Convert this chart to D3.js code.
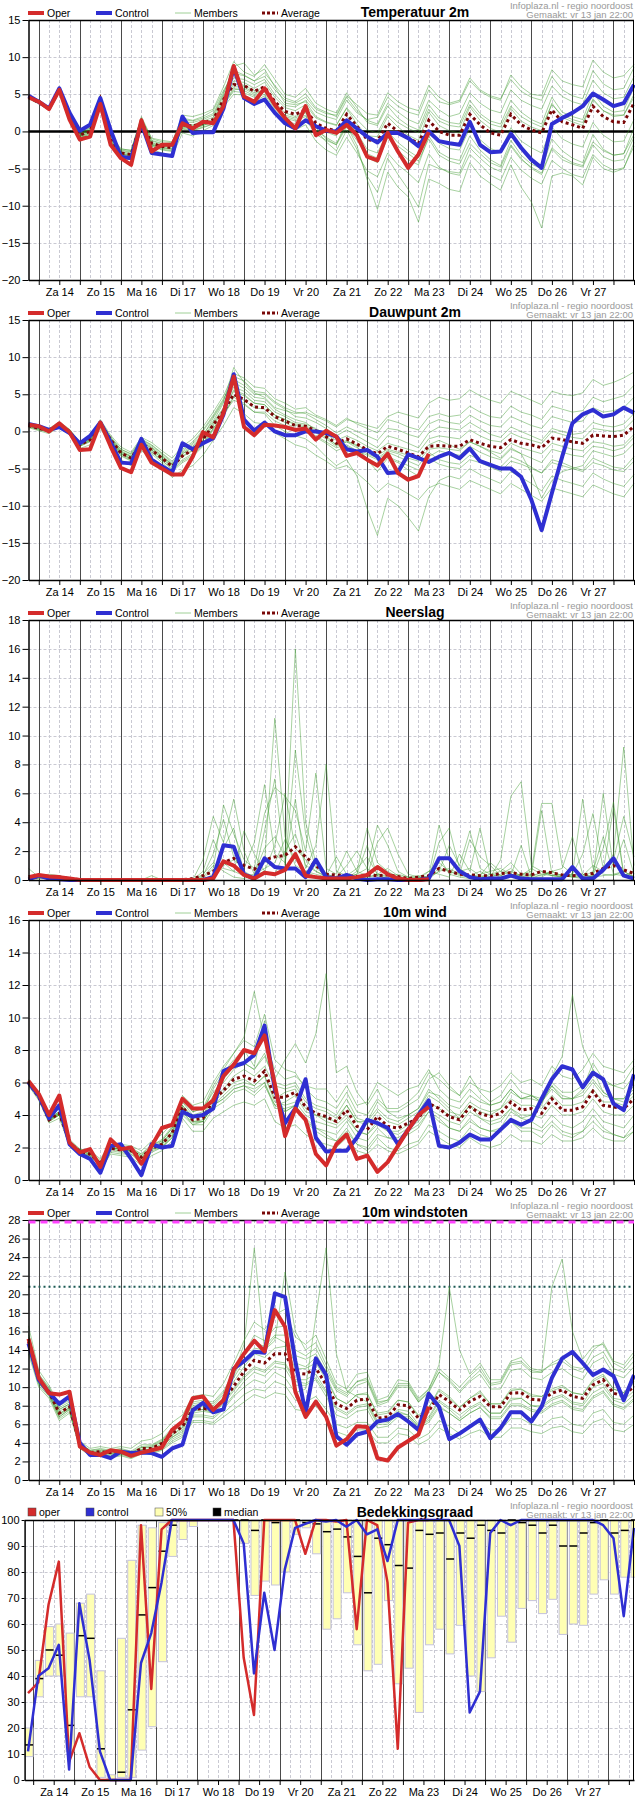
<!DOCTYPE html>
<html lang="nl">
<head>
<meta charset="UTF-8">
<title>Pluim noordoost</title>
<script src="https://cdnjs.cloudflare.com/ajax/libs/d3/7.8.5/d3.min.js"></script>
<style>
  body { margin: 0; background: #fff; }
  svg { display: block; font-family: "Liberation Sans", Arial, sans-serif; }
</style>
</head>
<body>
<svg id="chart" width="635" height="1800"></svg>
<script>
// ---------- data (6-hourly steps) ----------
var dayLabels = ["Za 14","Zo 15","Ma 16","Di 17","Wo 18","Do 19","Vr 20","Za 21","Zo 22","Ma 23","Di 24","Wo 25","Do 26","Vr 27"];

// Temperatuur 2m
var tOper = [4.6,4.0,3.0,5.6,1.6,-1.1,-0.7,3.7,-1.8,-3.6,-4.5,1.5,-2.7,-1.8,-1.8,1.1,0.4,1.3,1.1,3.4,8.8,4.7,4.0,5.8,3.6,1.8,0.4,3.4,-0.5,0.2,-0.2,0.9,-0.5,-3.4,-3.9,-0.2,-2.7,-4.9,-3.1,-0.1];
var tControl = [4.8,4.0,3.1,5.8,2.5,0.1,0.9,4.5,0.2,-3.4,-3.6,1.1,-2.9,-3.1,-3.3,2.0,-0.2,-0.1,-0.1,3.1,8.6,4.5,3.7,4.3,2.5,1.1,0.4,1.5,0.7,0.1,0,1.5,0.4,-0.7,-1.5,-0.2,-0.2,-0.9,-2.0,0,-1.3,-1.6,-1.8,1.3,-1.8,-2.8,-2.7,-0.3,-2.2,-3.8,-4.9,1.0,1.8,2.5,3.4,5.1,4.3,3.4,3.8,6.3];
var tAvg = [4.6,3.9,3.1,5.6,1.8,-0.5,0,4.3,-1.1,-2.9,-3.1,1.3,-1.6,-2.0,-2.2,0.9,0.7,1.1,1.6,4.3,6.3,6.2,5.4,6.0,4.0,2.7,2.3,2.9,1.1,0.4,0.1,2.3,0.7,-1.1,-1.3,1.1,0,-0.9,-1.6,1.5,0,-0.5,-0.5,2.3,0.9,-0.2,-0.5,2.3,0.9,0.2,-0.2,2.9,1.3,0.9,0.4,3.4,2.0,1.3,1.2,3.8];
var tMembers = [
  [4.8,4.1,3.3,5.9,2.0,-0.2,0.4,4.8,-0.5,-2.3,-2.6,1.8,-1.0,-1.4,-1.5,1.8,1.5,2.0,2.8,5.5,7.8,7.5,6.8,7.9,6.2,4.5,4.0,5.1,3.2,2.6,2.0,4.6,2.8,1.5,1.0,3.8,2.6,1.6,1.0,4.2,2.9,2.0,2.4,5.2,3.8,2.9,2.5,5.6,4.2,3.5,3.0,6.1,4.7,4.0,3.6,6.9,5.2,4.4,4.6,7.4],
  [4.4,3.7,2.9,5.3,1.5,-0.9,-0.6,3.6,-1.8,-3.6,-3.8,0.6,-2.4,-2.9,-3.3,-0.2,-0.6,0.1,0.8,3.3,5.0,4.9,4.0,4.8,2.5,0.9,0.2,0.9,-1.3,-2.5,-3.2,-0.8,-2.9,-5.3,-6.1,-2.9,-4.5,-5.6,-6.9,-3.0,-4.8,-5.6,-5.9,-3.1,-4.4,-5.9,-6.6,-3.5,-5.2,-6.3,-7.1,-3.9,-5.0,-5.8,-6.2,-3.1,-4.5,-5.2,-4.9,-2.0],
  [4.7,4.0,3.2,5.7,1.9,-0.4,0.2,4.5,-0.8,-2.6,-2.8,1.6,-1.3,-1.7,-1.9,1.3,1.2,1.6,2.2,5.0,8.8,9.2,7.6,8.4,6.0,3.8,3.6,4.0,2.0,1.3,0.9,3.1,1.0,-0.6,-0.7,2.0,0.6,-0.5,-1.2,2.6,0.8,0.1,-0.2,3.3,1.5,0.4,-0.1,3.1,1.4,0.6,0.1,3.8,1.9,1.3,0.8,4.4,2.8,2.0,2.2,5.0],
  [4.5,3.8,3.0,5.5,1.6,-0.7,-0.3,4.0,-1.4,-3.2,-3.4,1.0,-1.9,-2.4,-2.6,0.4,0.2,0.6,1.0,3.8,5.8,5.5,4.8,5.3,3.2,1.8,1.4,2.0,0.2,-0.8,-1.6,0.8,-1.9,-6.5,-10.5,-5.5,-7.5,-8.8,-12.2,-6.4,-7.0,-7.8,-8.1,-4.2,-6.0,-7.0,-7.9,-4.5,-7.5,-9.5,-13.0,-6.0,-5.6,-6.0,-7.2,-3.5,-5.0,-5.5,-5.0,-1.5],
  [4.6,3.9,3.1,5.6,1.8,-0.5,0.1,4.4,-1.0,-2.8,-3.0,1.4,-1.5,-1.9,-2.0,1.0,0.9,1.4,1.9,4.8,7.2,7.0,6.3,7.0,5.0,3.5,3.3,4.2,2.6,2.0,1.6,4.2,2.5,1.6,1.9,4.6,3.4,2.6,2.2,5.6,4.0,3.6,4.0,6.8,5.4,4.6,4.2,7.6,6.0,5.0,4.8,8.3,6.8,6.3,6.0,9.6,8.0,7.2,7.5,9.0],
  [4.5,3.9,3.0,5.4,1.7,-0.8,-0.4,3.9,-1.3,-3.1,-3.3,1.1,-1.8,-2.3,-2.4,0.7,0.4,0.8,1.3,3.7,5.6,5.8,5.0,5.6,3.6,2.2,1.8,2.5,0.6,-0.1,-0.6,1.6,-0.2,-2.4,-2.9,0.0,-1.5,-2.6,-3.5,0.2,-1.6,-2.3,-2.5,0.4,-1.1,-2.3,-2.8,0.5,-1.3,-2.2,-2.9,0.6,-1.0,-1.7,-2.1,1.2,-0.5,-1.4,-1.3,1.6],
  [4.7,4.0,3.2,5.8,2.1,-0.1,0.5,4.9,-0.6,-2.4,-2.5,2.0,-0.9,-1.2,-1.4,2.2,2.0,2.4,3.0,6.0,9.4,8.0,7.4,9.0,7.0,5.0,4.6,5.8,3.8,3.0,2.5,5.2,3.2,1.2,0.8,3.4,1.8,0.8,0.2,3.6,1.8,1.2,1.0,4.2,2.4,1.4,1.0,4.2,2.6,1.6,1.0,4.6,2.6,2.0,1.6,5.2,3.4,2.6,2.8,6.0],
  [4.6,3.8,3.1,5.6,1.7,-0.6,-0.1,4.2,-1.2,-3.0,-3.2,1.2,-1.7,-2.1,-2.3,0.6,0.5,0.9,1.4,4.0,6.4,6.2,5.5,5.9,3.9,2.5,2.0,2.6,0.5,-1.0,-1.8,1.5,-0.8,-3.5,-4.2,-0.8,-2.6,-3.8,-4.5,-0.6,-2.8,-3.6,-3.9,-0.6,-2.5,-3.8,-4.6,-1.2,-3.2,-4.4,-5.0,-1.0,-2.6,-3.6,-4.2,-0.4,-2.4,-3.2,-3.0,0.5],
  [4.5,3.8,3.0,5.5,1.7,-0.6,-0.2,4.1,-1.2,-3.0,-3.3,1.1,-1.8,-2.2,-2.4,0.5,0.4,0.8,1.3,4.1,6.8,6.6,5.8,6.6,4.6,3.2,2.8,3.6,1.8,1.2,0.8,3.2,1.6,0.2,-0.2,2.4,1.2,0.4,-0.2,3.0,1.4,0.8,0.6,3.6,2.0,1.0,0.6,3.4,2.0,1.2,0.6,3.6,2.2,1.6,1.2,4.2,2.8,2.2,2.2,4.6],
  [4.6,3.9,3.0,5.5,1.8,-0.4,0.0,4.4,-1.0,-2.8,-3.0,1.4,-1.6,-2.0,-2.1,1.0,0.8,1.2,1.6,4.4,6.0,6.0,5.2,5.6,3.4,2.0,1.6,2.2,0.2,-1.4,-2.6,0.2,-2.4,-6.0,-8.2,-3.6,-5.8,-7.8,-10.2,-4.4,-5.0,-5.4,-5.6,-2.2,-3.6,-4.8,-5.4,-2.0,-3.8,-4.8,-5.6,-2.2,-3.4,-4.2,-4.6,-1.4,-2.6,-3.2,-3.0,-0.4],
  [4.7,4.0,3.2,5.7,2.0,-0.3,0.3,4.6,-0.7,-2.5,-2.7,1.7,-1.2,-1.6,-1.7,1.6,1.4,1.8,2.4,5.2,8.2,7.6,6.8,7.4,5.6,4.2,3.8,4.6,3.0,2.4,2.2,4.8,3.6,2.4,2.2,5.2,4.0,3.2,2.8,6.2,4.6,3.8,4.2,7.2,5.6,4.8,4.4,7.0,5.4,4.6,4.2,7.4,5.6,4.8,4.4,8.2,6.4,5.6,5.8,8.6],
  [4.5,3.8,3.0,5.5,1.6,-0.8,-0.5,3.8,-1.5,-3.3,-3.5,0.9,-2.0,-2.5,-2.7,0.3,0.1,0.5,1.0,3.6,5.4,5.2,4.6,5.0,3.0,1.5,1.0,1.6,-0.4,-1.2,-1.8,0.6,-1.2,-3.0,-3.6,-0.6,-2.0,-3.0,-4.0,-1.0,-3.2,-4.0,-4.4,-1.6,-3.0,-4.2,-4.8,-1.8,-3.6,-5.0,-5.8,-2.4,-3.8,-4.4,-4.8,-1.8,-3.4,-4.0,-3.8,-0.8]
];

// Dauwpunt 2m
var dOper = [0.9,0.7,0,1.1,-0.1,-2.5,-2.4,1.2,-2.0,-4.9,-5.5,-1.8,-4.2,-5.0,-5.8,-5.8,-3.4,-0.1,-0.8,2.5,7.4,0.6,-0.5,0.9,0.8,0.6,0.2,0.4,-1.1,0.1,-0.7,-3.3,-2.9,-3.8,-4.6,-3.0,-5.6,-6.5,-6.0,-3.0];
var dControl = [1.0,0.7,0.2,0.6,-0.2,-1.6,-0.6,1.2,-1.4,-4.2,-4.3,-1.0,-3.8,-4.7,-5.5,-1.6,-2.4,-1.6,-0.9,2.3,7.7,1.6,0.1,1.2,0,-0.5,-0.5,0,0,-0.2,-0.7,-2.4,-2.7,-2.5,-3.4,-5.6,-5.5,-3.1,-3.6,-4.1,-3.4,-2.9,-3.6,-2.3,-4.0,-4.5,-5.0,-5.0,-6.1,-9.2,-13.3,-8.3,-3.4,1.1,2.3,2.9,2.0,2.3,3.2,2.5];
var dAvg = [0.8,0.4,0.1,0.9,0,-1.8,-1.1,1.1,-1.1,-2.9,-3.6,-1.6,-2.5,-3.6,-4.7,-3.3,-2.5,-1.1,0.9,2.7,5.0,4.3,3.3,3.2,2.0,1.4,0.8,0.7,0.1,-0.7,-1.6,-1.0,-1.7,-2.5,-3.0,-2.0,-2.4,-2.9,-3.4,-2.0,-1.9,-2.0,-2.0,-1.1,-1.6,-2.0,-2.2,-1.1,-1.6,-1.8,-2.2,-0.9,-1.1,-1.4,-1.6,-0.5,-0.6,-0.7,-0.5,0.7];
var dMembers = [
  [1.1,0.7,0.4,1.3,0.3,-1.4,-0.6,1.6,-0.5,-2.1,-2.8,-0.8,-1.5,-2.6,-3.6,-2.0,-1.0,0.6,2.6,4.8,7.8,7.2,6.0,5.8,4.4,3.8,3.0,3.2,2.2,1.6,0.8,1.8,1.0,0.4,-0.2,1.6,1.2,0.6,0.2,2.0,2.4,2.0,2.2,3.4,2.6,2.0,1.8,3.4,2.6,2.2,1.6,3.4,3.0,2.6,2.8,4.6,4.0,4.4,4.8,6.2],
  [0.5,0.1,-0.3,0.6,-0.4,-2.3,-1.8,0.4,-1.8,-3.8,-4.6,-2.6,-3.6,-4.8,-6.2,-5.2,-4.6,-3.2,-1.2,0.8,3.2,2.4,1.2,1.0,-0.2,-1.0,-1.8,-2.2,-3.2,-4.0,-5.0,-4.6,-5.6,-6.8,-8.2,-7.0,-7.6,-8.4,-9.2,-7.6,-7.0,-7.4,-7.8,-6.6,-7.2,-7.8,-8.4,-7.0,-7.8,-8.6,-9.4,-7.6,-8.0,-8.4,-8.8,-7.2,-7.8,-8.4,-8.8,-7.0],
  [0.9,0.5,0.2,1.0,0.1,-1.6,-0.9,1.3,-0.9,-2.6,-3.3,-1.2,-2.1,-3.2,-4.4,-2.8,-1.8,-0.4,1.4,3.8,6.6,5.8,4.6,4.4,3.0,2.2,1.6,1.2,0.2,-0.6,-1.8,-1.2,-2.0,-3.8,-5.4,-3.6,-4.2,-5.2,-6.0,-3.4,-2.6,-3.0,-3.2,-2.0,-2.8,-3.4,-3.8,-2.4,-3.0,-3.6,-4.2,-2.4,-2.8,-3.2,-3.4,-2.0,-2.2,-2.6,-2.2,-0.8],
  [0.7,0.3,0.0,0.8,-0.1,-2.0,-1.3,0.9,-1.3,-3.3,-4.0,-2.0,-3.0,-4.2,-5.4,-4.2,-3.4,-2.0,0.2,2.0,4.6,3.8,2.6,2.4,0.8,0.0,-0.6,-1.0,-2.0,-3.4,-4.6,-3.8,-6.0,-10.4,-14.0,-9.0,-10.0,-11.6,-13.4,-8.8,-6.6,-6.0,-6.4,-5.0,-5.8,-6.4,-7.0,-5.4,-6.2,-7.0,-8.0,-6.0,-6.6,-7.0,-7.4,-5.6,-6.4,-7.0,-7.4,-5.8],
  [0.8,0.4,0.1,0.9,0.0,-1.8,-1.0,1.2,-1.0,-2.8,-3.4,-1.4,-2.2,-3.4,-4.4,-3.0,-2.0,-0.6,1.8,4.0,8.6,6.6,5.2,4.6,3.2,2.8,2.4,2.6,2.0,1.4,0.6,1.6,1.2,0.8,0.4,2.0,2.6,2.2,1.8,3.8,4.6,4.2,4.4,5.6,4.8,4.2,3.8,5.4,4.8,4.2,3.6,5.4,5.0,4.8,5.2,7.0,6.2,6.6,7.2,8.0],
  [0.6,0.2,-0.1,0.7,-0.2,-2.0,-1.4,0.8,-1.4,-3.2,-3.9,-1.8,-2.8,-3.9,-5.0,-3.8,-3.0,-1.6,0.4,2.4,4.2,3.6,2.6,2.6,1.4,0.8,0.2,0.0,-0.8,-1.6,-2.6,-2.0,-2.6,-3.2,-3.8,-2.8,-3.4,-4.0,-4.6,-2.8,-3.8,-4.2,-4.4,-3.2,-3.8,-4.4,-4.8,-3.4,-4.0,-4.8,-5.6,-3.8,-4.2,-4.8,-5.2,-3.6,-4.2,-4.8,-5.0,-3.4],
  [1.0,0.6,0.3,1.1,0.2,-1.5,-0.7,1.4,-0.7,-2.4,-3.0,-1.0,-1.8,-2.9,-4.0,-2.4,-1.4,0.2,2.2,4.4,7.0,6.2,5.0,5.0,3.8,3.0,2.0,1.8,1.2,0.4,-0.6,0.2,-0.6,-1.4,-2.2,-0.6,-1.0,-1.6,-2.2,-0.2,0.6,0.4,0.2,1.2,0.4,-0.4,-0.8,0.6,0.0,-0.6,-1.2,0.4,0.0,-0.4,-0.2,1.2,0.8,0.6,1.0,2.4],
  [0.8,0.4,0.1,0.9,-0.1,-1.9,-1.2,1.0,-1.2,-3.0,-3.7,-1.6,-2.5,-3.6,-4.8,-3.4,-2.6,-1.2,0.8,2.8,5.4,4.8,3.8,3.6,2.2,1.6,1.0,0.8,0.0,-0.8,-1.8,-1.4,-1.8,-2.6,-3.2,-2.4,-2.8,-3.2,-3.6,-1.8,-1.2,-1.8,-2.4,-1.4,-2.0,-2.8,-3.6,-2.2,-3.0,-5.6,-9.0,-6.6,-5.4,-5.0,-4.6,-2.6,-3.0,-3.4,-3.0,-1.6],
  [0.9,0.5,0.2,1.0,0.0,-1.7,-1.0,1.2,-1.0,-2.7,-3.4,-1.4,-2.3,-3.4,-4.5,-3.0,-2.2,-0.8,1.2,3.2,6.0,5.4,4.2,4.0,2.6,2.0,1.2,1.0,0.4,-0.4,-1.2,-0.6,-1.2,-2.0,-2.6,-1.6,-2.0,-2.4,-2.8,-1.0,-0.6,-0.8,-1.0,0.2,-0.6,-1.2,-1.4,-0.2,-0.8,-1.2,-1.6,0.0,-0.4,-0.8,-1.0,0.4,0.2,0.0,0.2,1.6],
  [0.7,0.3,0.0,0.8,-0.1,-1.9,-1.2,1.0,-1.2,-3.0,-3.8,-1.8,-2.8,-3.9,-5.2,-4.0,-3.2,-1.8,0.4,2.2,4.8,4.2,3.2,3.0,1.8,1.2,0.4,0.2,-0.6,-1.4,-2.2,-1.8,-2.6,-3.6,-4.4,-3.4,-4.0,-4.6,-5.2,-3.6,-4.4,-4.8,-5.0,-3.8,-4.2,-4.8,-5.4,-4.0,-4.4,-5.0,-5.6,-4.2,-4.6,-5.0,-5.4,-4.2,-4.6,-5.2,-5.4,-4.0],
  [1.0,0.6,0.3,1.1,0.2,-1.5,-0.8,1.4,-0.8,-2.4,-3.1,-1.1,-1.9,-3.0,-4.2,-2.6,-1.6,0.0,2.0,4.2,7.4,6.8,5.4,5.2,4.0,3.2,2.6,2.4,1.6,0.8,-0.2,0.6,0.0,-0.6,-1.2,0.4,0.2,-0.4,-0.8,1.0,1.6,1.2,1.0,2.2,1.4,0.8,0.6,2.0,1.4,0.8,0.4,2.0,1.6,1.2,1.4,3.2,2.6,2.8,3.2,4.6],
  [0.8,0.4,0.1,0.9,0.0,-1.8,-1.1,1.1,-1.1,-2.9,-3.6,-1.6,-2.5,-3.6,-4.7,-3.3,-2.5,-1.1,1.0,3.0,5.6,5.0,3.8,3.6,2.2,1.6,0.8,0.6,-0.2,-1.0,-2.0,-1.4,-2.2,-3.0,-3.6,-2.6,-3.0,-3.6,-4.0,-2.4,-2.2,-2.4,-2.6,-1.4,-2.0,-2.6,-3.0,-1.6,-2.2,-2.6,-3.0,-1.6,-2.0,-2.4,-2.6,-1.4,-1.6,-2.0,-1.8,-0.4]
];

// Neerslag (mm)
var pOper = [0.2,0.35,0.25,0.2,0.1,0,0,0,0,0,0,0,0,0,0,0,0,0,0.1,1.3,1.0,0.35,0.1,0.5,0.4,0.7,1.8,0.3,0.2,0.1,0.1,0.1,0.2,0.35,0.9,0.4,0.1,0,0,0.05];
var pControl = [0.05,0.3,0.1,0.05,0,0,0,0,0,0,0,0,0,0,0,0,0,0,0.2,2.4,2.3,0.4,0.1,1.5,0.9,0.8,0.8,0.2,1.4,0.2,0.1,0.35,0.1,0,0.05,0.05,0,0,0,0.1,1.5,1.5,0.6,0.2,0.05,0.1,0.1,0.3,0.1,0.05,0.05,0.05,0.05,0.9,0.1,0.1,0.7,1.5,0.3,0.1];
var pAvg = [0.05,0.25,0.2,0.2,0.1,0.02,0.02,0.02,0.02,0.02,0.02,0.02,0.02,0.02,0.02,0.02,0.1,0.3,0.6,1.2,1.5,1.0,0.75,1.4,1.6,1.7,2.3,1.6,1.0,0.4,0.35,0.3,0.25,0.35,0.3,0.35,0.25,0.1,0.2,0.3,0.8,0.6,0.4,0.35,0.3,0.3,0.45,0.5,0.4,0.35,0.6,0.5,0.35,0.3,0.35,0.45,0.8,1.0,0.7,0.45];
var pMembers = [
  [0,0.4,0.3,0.2,0.1,0,0,0,0,0,0,0,0,0,0,0,0,0.3,1.8,4.2,1.6,0.6,0.2,1.2,11.2,3.0,1.0,0.6,0.4,0.2,0.1,0.2,0.4,0.8,0.3,0.1,0,0,0.2,0.6,1.2,0.6,0.3,0.2,0.4,0.6,0.8,0.4,0.2,0.1,0.4,0.6,0.3,0.2,0.1,0.3,0.6,1.8,9.2,1.0],
  [0.8,0.2,0.1,0,0,0,0,0,0,0,0,0,0,0,0,0,0,1.4,4.4,2.6,5.6,2.0,0.4,2.2,3.0,1.6,16.0,4.0,1.2,0.4,0.2,0.1,0.6,3.6,1.2,0.6,0.2,0,0.1,0.3,3.8,1.4,0.6,0.8,0.3,0.2,1.4,5.8,6.8,1.0,0.6,0.3,0.2,0.4,5.6,0.8,0.4,0.3,0.6,0.2],
  [0.1,0.3,0.4,0.3,0.1,0,0,0,0,0,0,0,0.3,0,0,0,0,0.1,0.8,5.2,3.2,1.4,0.8,4.6,6.4,5.8,4.8,2.0,7.4,0.8,0.4,2.0,0.6,0.3,2.6,3.6,1.8,0.4,0.2,0.1,0.6,2.4,1.0,3.4,0.8,0.4,0.6,1.2,0.4,0.6,5.3,5.3,1.0,0.4,1.8,4.6,0.8,1.4,4.4,1.6],
  [0,0.2,0.2,0.1,0,0,0,0,0,0,0,0,0,0,0,0,0,0.6,2.8,1.2,0.6,3.4,1.8,0.6,2.4,6.0,2.2,1.4,0.6,0.3,1.6,0.4,0.2,0.1,0.4,0.8,0.3,0.1,0,0.6,0.4,0.2,1.8,0.6,3.6,0.4,0.2,0.3,2.4,0.2,0.2,0.6,0.8,3.0,0.4,0.2,6.0,0.8,2.8,0.4],
  [0.2,0.3,0.1,0.1,0,0,0,0,0,0,0,0,0,0,0,0,0,0,0.3,1.0,1.4,0.8,2.6,6.6,1.8,1.2,5.6,0.8,2.4,8.0,0.6,0.3,0.8,1.6,0.4,0.2,0.4,0.2,0.1,0.2,1.6,0.4,0.2,0.1,0.3,1.2,0.6,0.4,0.3,0.8,0.4,0.3,0.2,0.4,0.3,1.0,0.6,5.0,0.3,0.6],
  [0.1,0.1,0.3,0.2,0.1,0,0,0,0,0,0,0,0,0,0,0,0,0.2,1.0,0.8,0.6,0.3,0.4,0.8,1.2,2.8,1.4,0.6,0.2,0.1,0.2,1.0,2.0,0.8,3.8,2.4,0.6,0.2,0.3,0.2,0.8,0.6,0.4,2.8,1.6,1.0,0.3,0.2,0.4,0.3,4.8,0.4,0.2,0.3,0.2,0.6,3.0,0.4,0.3,0.2],
  [0.3,0.2,0.2,0.1,0,0,0,0,0,0,0,0,0,0,0,0,0,0,0.4,2.2,3.6,0.4,0.2,3.4,7.0,1.0,9.0,3.2,0.8,0.4,0.2,0.3,0.1,0.2,0.4,0.3,0.1,0,0,0.2,0.6,0.8,0.4,0.3,0.2,0.4,0.3,0.6,0.3,0.2,0.6,0.3,0.4,0.2,0.2,0.3,2.2,5.4,0.4,0.3],
  [0,0.1,0.1,0.2,0.1,0,0,0,0,0,0,0,0,0,0,0,0,0.4,1.2,0.6,0.2,0.1,0.3,0.6,0.4,2.0,3.2,1.0,0.6,0.2,0.1,0.2,0.4,2.4,0.3,0.1,0,0.1,0.2,0.1,2.6,3.6,0.8,0.3,0.6,0.2,0.4,0.8,0.2,0.4,0.3,0.6,0.2,0.3,0.4,0.2,0.3,0.4,0.6,0.2]
];

// 10m wind (m/s)
var wOper = [6.1,5.3,4.0,5.2,2.3,1.7,1.9,0.8,2.5,1.9,2.0,1.0,2.1,3.2,3.4,5.0,4.4,4.4,4.9,6.4,7.1,8.0,7.8,8.9,5.9,2.7,4.4,3.7,1.6,0.9,2.2,2.8,1.3,1.5,0.5,1.1,2.1,3.1,4.0,4.5];
var wControl = [6.0,5.2,3.8,4.6,2.2,1.6,1.3,0.45,2.1,2.2,1.3,0.3,2.2,2.0,2.1,4.2,3.9,4.0,4.4,6.7,7.0,7.2,7.7,9.5,5.6,3.5,4.4,6.2,2.6,1.75,1.8,1.8,2.6,3.7,3.5,3.2,2.2,3.1,4.0,4.9,2.1,2.0,2.3,2.8,2.5,2.5,3.1,3.7,3.4,3.7,5.0,6.2,7.0,6.8,5.7,6.6,6.2,4.7,4.3,6.5];
var wAvg = [6.0,5.1,3.7,4.1,2.3,1.75,1.6,1.0,1.95,1.85,1.8,1.4,1.95,2.2,2.9,4.5,3.7,3.8,4.9,5.5,6.2,6.4,6.1,6.7,5.1,5.1,5.4,4.5,4.1,3.9,3.6,4.3,3.3,3.1,3.9,3.3,3.2,3.5,3.8,4.7,4.4,3.9,3.7,4.5,4.1,3.9,4.1,4.8,4.3,4.4,4.1,5.0,4.3,4.3,4.5,5.45,4.6,4.5,4.4,5.0];
var wMembers = [
  [6.2,5.3,3.9,4.4,2.5,1.9,1.8,1.3,2.3,2.2,2.1,1.8,2.4,2.8,3.5,5.2,4.6,4.8,6.0,7.0,7.8,8.6,8.2,10.2,7.4,6.8,6.6,5.6,5.0,4.8,4.4,5.4,4.2,4.0,5.0,4.4,4.4,4.8,5.4,6.6,6.2,5.6,5.2,6.0,5.6,5.4,5.8,6.6,6.0,6.2,5.8,7.0,6.4,6.2,6.8,7.8,7.0,6.8,6.6,7.4],
  [5.8,4.9,3.5,3.8,2.1,1.5,1.3,0.6,1.6,1.5,1.4,0.9,1.5,1.8,2.4,3.8,3.0,3.0,3.8,4.2,4.6,4.8,4.6,5.0,3.6,3.2,3.4,2.8,2.4,2.2,2.0,2.6,1.8,1.6,2.2,1.8,1.6,1.9,2.2,3.0,2.6,2.2,2.0,2.6,2.2,2.0,2.2,2.8,2.4,2.4,2.2,2.8,2.4,2.4,2.6,3.2,2.6,2.4,2.4,3.0],
  [6.1,5.2,3.8,4.0,2.3,1.8,1.6,0.9,1.9,1.8,1.8,1.3,2.0,2.2,3.0,4.6,3.9,4.0,5.2,6.2,7.0,7.2,6.8,7.6,6.2,7.4,8.4,7.2,9.0,12.7,6.6,7.0,5.4,4.6,5.6,4.2,3.8,4.0,4.4,5.6,5.0,4.4,3.8,4.6,3.8,3.4,3.6,4.4,3.8,3.6,3.2,4.0,3.4,3.2,3.6,4.4,3.6,3.4,3.2,4.0],
  [5.9,5.0,3.6,4.2,2.2,1.6,1.5,1.1,2.1,2.0,1.9,1.6,2.2,2.4,3.2,4.8,4.0,4.2,5.6,6.6,7.4,8.0,7.0,9.8,5.4,4.2,4.6,3.6,3.2,3.0,2.8,3.6,2.6,2.4,3.2,2.6,2.4,2.8,3.2,4.2,3.6,3.2,3.0,3.8,3.2,3.0,3.2,4.2,3.8,4.0,4.6,6.4,7.6,11.4,8.2,6.8,5.4,5.0,4.8,5.4],
  [6.0,5.1,3.7,4.0,2.3,1.7,1.4,0.5,1.7,1.6,1.6,1.0,1.7,2.0,2.6,4.0,3.4,3.4,4.4,4.8,5.4,5.6,5.2,5.8,4.6,4.8,5.2,4.2,4.0,3.8,3.6,4.6,3.6,3.6,4.8,4.2,4.2,4.6,5.0,6.2,6.6,5.8,5.2,6.4,5.4,4.8,5.2,6.2,5.4,5.2,4.8,5.8,5.0,5.0,5.6,7.2,6.2,5.8,6.0,7.0],
  [6.1,5.2,3.8,4.2,2.4,1.8,1.7,1.0,2.0,1.9,1.8,1.4,1.9,2.0,2.6,4.2,3.4,3.6,4.6,5.0,5.6,5.8,5.6,6.0,4.4,4.4,4.6,3.8,3.2,2.8,2.4,3.2,2.2,1.8,2.6,2.0,1.8,2.2,2.4,3.4,3.0,2.6,2.4,3.2,2.8,2.6,3.0,3.6,3.0,3.0,2.6,3.4,2.8,2.6,3.0,4.0,3.2,2.8,2.6,3.4],
  [6.0,5.0,3.7,4.1,2.3,1.7,1.6,1.0,2.0,1.9,1.8,1.5,2.0,2.4,3.2,4.8,4.2,4.4,5.8,6.8,7.8,8.8,11.6,8.6,6.8,6.2,6.4,5.8,5.6,5.6,4.8,5.8,4.6,4.8,6.0,5.6,5.2,5.6,5.8,6.8,5.6,5.0,4.8,5.6,5.0,4.6,4.8,5.6,5.0,5.2,4.8,5.8,5.2,5.0,5.4,6.2,5.4,5.0,5.0,5.8],
  [5.9,5.1,3.6,4.0,2.2,1.7,1.5,0.8,1.8,1.7,1.6,1.2,1.8,2.0,2.7,4.2,3.5,3.6,4.6,5.2,5.8,6.0,5.8,6.4,5.0,5.4,5.6,4.4,4.0,3.6,3.4,4.0,3.0,2.8,3.4,3.0,3.0,3.4,3.8,4.8,4.4,4.0,3.8,4.6,4.2,4.0,4.4,5.4,5.0,5.2,5.0,6.0,5.4,5.4,5.8,6.8,6.0,5.8,5.6,6.4],
  [6.0,5.1,3.7,4.1,2.3,1.8,1.7,1.1,2.0,1.9,1.9,1.5,2.0,2.3,3.0,4.6,3.8,3.9,5.0,5.6,6.4,6.8,6.4,7.0,5.8,5.6,5.8,4.8,4.4,4.2,3.8,4.6,3.6,3.4,4.2,3.6,3.4,3.8,4.2,5.2,4.8,4.2,4.0,4.8,4.4,4.2,4.4,5.0,4.6,4.6,4.4,5.2,4.6,4.6,4.8,5.6,4.8,4.8,4.6,5.2],
  [6.1,5.2,3.8,4.2,2.4,1.9,1.7,1.2,2.2,2.0,2.0,1.6,2.1,2.5,3.3,5.0,4.2,4.4,5.4,6.0,6.8,7.2,6.8,7.8,6.0,5.8,6.0,5.0,4.6,4.4,4.0,5.0,3.8,3.6,4.4,3.8,3.6,4.0,4.4,5.4,5.2,4.6,4.4,5.2,4.8,4.6,4.8,5.6,5.0,5.0,4.8,5.6,5.0,5.0,5.2,6.0,5.2,5.0,5.0,5.6],
  [5.9,5.0,3.6,4.0,2.2,1.6,1.5,0.9,1.9,1.8,1.7,1.3,1.9,2.1,2.8,4.4,3.6,3.7,4.8,5.4,6.0,6.2,5.8,6.4,4.8,4.6,4.8,4.0,3.6,3.4,3.2,3.8,3.0,2.8,3.6,3.0,2.8,3.2,3.6,4.4,4.0,3.6,3.4,4.2,3.8,3.6,3.8,4.4,4.0,4.0,3.8,4.6,4.0,4.0,4.2,5.0,4.2,4.0,4.0,4.6],
  [6.0,5.1,3.7,4.1,2.3,1.8,1.6,1.0,2.0,1.9,1.8,1.4,2.0,2.2,2.9,4.5,3.6,3.6,4.6,5.0,5.6,5.8,5.4,6.0,4.6,4.2,4.6,3.6,3.0,2.6,2.4,3.0,2.2,2.0,2.8,2.6,2.6,3.0,3.4,4.2,3.8,3.2,3.0,3.6,3.2,3.0,3.0,3.6,3.2,3.2,3.0,3.6,3.0,2.8,3.0,3.6,3.0,2.8,2.6,3.0]
];

// 10m windstoten (m/s)
var gOper = [15.2,11.0,9.35,9.2,9.5,3.6,2.95,2.7,3.2,3.05,2.6,2.95,3.2,3.5,5.4,6.3,8.8,9.0,7.55,8.6,11.9,13.6,15.0,13.85,18.3,16.5,9.5,6.8,8.45,6.8,3.7,4.4,5.8,5.7,2.35,2.1,3.5,4.2,4.9,7.9];
var gControl = [14.7,10.8,9.4,8.2,9.0,4.0,2.7,2.7,2.35,3.05,2.9,2.95,2.9,2.5,3.4,3.8,7.5,8.3,7.3,7.6,12.0,12.8,13.8,13.7,20.1,19.7,12.8,7.2,13.1,11.3,4.7,3.8,4.9,5.2,6.3,6.5,7.1,6.3,5.4,9.3,7.9,4.4,5.0,5.75,6.5,4.5,5.6,7.3,7.3,6.3,7.9,11.0,13.1,13.8,12.6,11.3,11.9,11.2,8.6,11.3];
var gAvg = [14.9,10.8,9.5,7.2,7.9,3.8,2.95,3.05,2.95,3.05,2.8,3.4,3.4,3.95,5.0,5.75,7.6,7.7,7.55,8.6,10.1,11.7,12.9,12.6,13.6,13.6,11.5,11.4,12.05,10.25,8.2,7.7,8.6,8.7,6.65,6.8,8.1,8.0,6.65,7.4,9.2,8.45,7.55,8.45,9.0,7.9,7.9,9.35,9.4,8.7,8.6,9.35,9.7,9.0,8.8,10.25,10.8,9.35,9.05,10.1];
var gMembers = [
  [16.6,11.8,10.2,8.0,8.6,4.2,3.4,3.6,3.4,3.6,3.4,4.2,4.4,5.0,6.2,7.0,9.0,9.2,9.0,10.4,12.6,15.0,17.0,16.2,17.8,18.4,15.4,14.6,15.6,13.0,10.4,9.8,11.4,11.6,8.6,9.0,10.8,10.6,8.8,9.8,12.0,11.0,10.0,11.2,12.2,10.4,10.6,12.6,12.8,11.8,11.6,12.6,13.2,12.2,12.0,14.0,14.8,12.8,12.4,13.8],
  [13.6,10.0,8.8,6.4,7.2,3.4,2.6,2.6,2.4,2.6,2.3,2.8,2.8,3.2,4.0,4.6,6.2,6.2,6.0,6.8,7.6,8.4,9.2,8.8,9.4,9.2,7.6,7.4,8.0,6.6,5.2,4.8,5.4,5.4,4.0,4.0,5.0,4.8,3.8,4.4,5.6,5.0,4.4,5.0,5.4,4.6,4.6,5.6,5.6,5.2,5.0,5.6,5.8,5.2,5.0,6.2,6.6,5.4,5.2,6.0],
  [15.2,11.0,9.6,7.4,8.0,3.8,3.0,3.0,2.8,3.0,2.6,3.2,3.2,3.6,4.6,5.4,7.4,7.6,7.2,8.8,11.4,14.6,25.0,14.0,15.4,14.8,12.6,12.2,13.2,11.2,8.8,8.2,9.2,9.4,7.0,7.2,8.6,8.4,6.8,7.8,9.8,9.0,7.8,8.8,9.6,8.2,8.2,9.8,9.8,9.2,9.0,9.8,10.2,9.4,9.2,10.8,11.4,9.8,9.4,10.6],
  [14.4,10.4,9.2,6.8,7.6,3.6,2.8,2.8,2.6,2.8,2.5,3.0,3.0,3.4,4.4,5.0,6.8,6.8,6.6,7.6,9.0,10.0,10.8,10.4,11.6,11.0,9.4,9.8,17.6,25.0,13.6,9.6,9.0,8.4,6.4,6.2,7.4,7.0,5.8,6.4,8.0,7.2,6.4,7.2,7.8,6.8,6.8,8.2,8.2,7.6,7.4,8.2,8.6,7.8,7.6,9.0,9.6,8.2,7.8,8.8],
  [15.8,11.4,10.0,7.8,8.4,4.0,3.2,3.4,3.2,3.4,3.1,3.8,3.8,4.4,5.6,6.4,8.4,8.6,8.4,9.6,11.6,13.4,14.8,14.4,15.6,15.6,13.4,13.0,13.6,11.6,9.6,9.0,10.2,10.6,8.0,8.4,10.0,10.0,8.4,9.4,11.6,10.8,9.6,10.8,11.8,10.2,10.4,12.4,12.6,11.6,11.6,20.8,23.8,16.0,13.0,14.4,14.6,12.6,12.0,13.4],
  [14.0,10.2,9.0,6.6,7.4,3.5,2.7,2.7,2.5,2.7,2.4,2.9,2.9,3.3,4.2,4.8,6.4,6.4,6.2,7.2,8.2,9.2,9.8,9.6,10.6,10.2,8.6,8.4,9.0,7.6,6.0,5.6,6.2,6.2,4.6,4.6,5.6,5.4,4.4,5.0,6.4,5.8,5.0,5.8,6.2,5.4,5.4,6.6,6.6,6.0,5.8,6.6,6.8,6.0,5.8,7.2,7.6,6.2,6.0,7.0],
  [15.0,10.9,9.4,7.2,7.8,3.8,3.0,3.1,3.0,3.1,2.9,3.5,3.6,4.2,5.4,6.2,8.0,8.2,8.0,9.2,11.0,12.8,14.2,14.0,15.0,22.4,16.0,14.0,14.8,12.4,10.0,9.4,10.6,11.0,8.4,8.6,10.4,10.4,8.6,9.8,12.4,20.8,14.0,11.4,12.6,10.8,10.8,12.8,13.2,12.0,11.8,12.4,12.8,12.0,11.6,13.2,13.8,12.0,11.6,12.8],
  [14.6,10.6,9.3,7.0,7.7,3.7,2.9,2.9,2.8,2.9,2.7,3.3,3.3,3.8,4.8,5.6,7.2,7.4,7.2,8.2,9.6,11.0,12.0,11.6,12.6,12.4,10.6,10.4,11.0,9.4,7.6,7.0,7.8,8.0,6.0,6.0,7.2,7.0,5.8,6.6,8.4,7.6,6.6,7.6,8.2,7.2,7.2,8.6,8.8,8.0,8.0,8.8,9.2,8.4,8.2,10.0,10.4,8.8,8.6,9.6],
  [15.4,11.2,9.8,7.6,8.2,3.9,3.1,3.2,3.1,3.2,2.9,3.5,3.5,4.1,5.2,5.9,7.8,7.9,7.8,8.9,10.6,12.2,13.6,13.2,14.2,14.4,12.0,12.0,12.6,10.8,8.8,8.2,9.2,9.2,7.2,7.4,8.6,8.4,7.0,7.8,9.6,8.8,7.8,8.8,9.4,8.2,8.2,9.6,9.8,9.0,9.0,9.6,10.0,9.4,9.2,10.6,11.2,9.8,9.4,10.4],
  [14.2,10.4,9.1,6.8,7.6,3.6,2.8,2.8,2.7,2.8,2.6,3.1,3.1,3.6,4.6,5.2,7.0,7.0,6.8,7.8,9.2,10.6,11.6,11.2,12.2,12.0,10.2,10.2,10.8,9.0,7.0,6.6,7.4,7.6,5.6,5.8,6.8,6.8,5.6,6.2,7.8,7.2,6.4,7.2,7.8,6.6,6.6,8.0,8.0,7.4,7.2,8.0,8.4,7.6,7.4,8.8,9.4,8.0,7.6,8.6],
  [15.6,11.3,9.9,7.6,8.2,3.9,3.2,3.3,3.1,3.3,3.0,3.6,3.7,4.3,5.4,6.2,8.2,8.4,8.2,9.4,11.2,13.6,15.6,15.0,16.4,16.6,14.0,13.4,14.2,12.0,9.8,9.2,10.6,10.8,8.2,8.6,10.2,10.2,8.4,9.6,11.6,10.6,9.4,10.6,11.4,9.8,9.8,11.8,12.0,11.0,10.8,11.6,12.0,11.2,10.8,12.6,13.2,11.4,11.0,12.2],
  [14.8,10.7,9.4,7.1,7.8,3.7,2.9,3.0,2.9,3.0,2.8,3.3,3.3,3.9,4.9,5.7,7.5,7.6,7.4,8.4,9.8,11.2,12.2,11.8,12.8,12.6,10.8,10.8,11.4,9.6,7.8,7.2,8.0,8.2,6.2,6.4,7.6,7.4,6.0,6.8,8.6,7.8,7.0,7.8,8.4,7.2,7.2,8.8,8.8,8.0,7.8,8.6,9.0,8.2,8.0,9.4,10.0,8.6,8.2,9.2]
];
var gustMax = 28;      // pink dashed line
var gustWarn = 20.8;   // dotted line

// Bedekkingsgraad (%)
var cOper = [33.4,37.5,67.5,84,7,18,5,0,0,0,0,98,35,96.4,100,100,100,100,100,100,100,47,25,100,100,100,100,87,100,100,99.4,100,58,100,98,76,12,99,100,100];
var cControl = [11,40,43,52,4,68,46,11,0,0,0,45,56.5,76,100,100,100,100,100,100,100,91,41,72,50,81,97,98.5,100,99.4,100,97.4,100,94.5,96.4,84.2,100,100,100,100,100,100,90,26,34,95,100,98,100,100,100,100,100,100,100,100,98,93,63,97];
var cLow = [9,32,40,40,11,32,32,1,0,1,1,11.5,20.5,45.5,86,92.5,97.5,100,100,100,100,91,71,76.5,75,80,94.5,97,87,58,62,72,52,42,44.5,69,37,43,26,52,58,48.5,59.5,40,34,47,63,53,66,69,64,69.5,56,60,59.5,71.5,77,71.5,78,78];
var cHigh = [20,46,59,60,56.5,68,71.5,42,2,54.5,84.5,98,97,99,100,100,100,100,100,100,100,100,100,100,100,100,100,100,100,100,100,100,100,100,100,100,100,100,100,100,100,100,100,100,100,100,100,100,100,100,100,100,100,100,100,100,100,100,100,100];
var cMedian = [13.5,39,50,48,21,55.5,54.5,12,0,3,27,63.5,74,88,98,100,100,100,100,100,100,100,96,100,99,100,100,99,98.5,95.5,96.5,93.5,86,72,93,90.5,82.5,81.5,96,94.5,95,85,95,93,98,96,95,100,99,98,95,98,90,90,95,99,100,95,96,100];

// ---------- drawing ----------
var svg = d3.select("#chart");
var PH = 260;
var STEP = 6 * 3600 * 1000;
var OPER = "#d42b2b", CONTROL = "#2f2fd2", MEMBER = "#3c9a2c", AVG = "#7a0808";
var dayZero = new Date(2023, 0, 14, 0);

var xMain = d3.scaleTime()
    .domain([new Date(2023, 0, 13, 18), new Date(2023, 0, 28, 12)])
    .range([28.5, 634]);
var startMain = new Date(2023, 0, 13, 18);

var xCover = d3.scaleTime()
    .domain([new Date(2023, 0, 13, 19), new Date(2023, 0, 28, 15)])
    .range([24.6, 634]);
var startCover = new Date(2023, 0, 13, 21);

function stepTime(start, i) { return new Date(+start + i * STEP); }
function crisp(v) { return Math.round(v) + 0.5; }

function drawFrame(top, x, y, yTicks, title) {
    var g = svg.append("g").attr("transform", "translate(0," + top + ")");
    var x0 = x.range()[0], x1 = x.range()[1];
    var d0 = x.domain()[0], d1 = x.domain()[1];

    // horizontal grid
    g.append("g").selectAll("line").data(yTicks).join("line")
        .attr("x1", x0).attr("x2", x1)
        .attr("y1", function (d) { return crisp(y(d)); })
        .attr("y2", function (d) { return crisp(y(d)); })
        .attr("stroke", "#c9c9d2").attr("stroke-dasharray", "3,2");

    // vertical grid, day lines solid
    var hours = d3.timeHour.every(6).range(d0, d1).filter(function (d) { return +d > +d0; });
    g.append("g").selectAll("line").data(hours).join("line")
        .attr("x1", function (d) { return crisp(x(d)); })
        .attr("x2", function (d) { return crisp(x(d)); })
        .attr("y1", 0).attr("y2", PH)
        .attr("stroke", function (d) { return d.getHours() === 0 ? "#4a4a4a" : "#c9c9d2"; })
        .attr("stroke-dasharray", function (d) { return d.getHours() === 0 ? null : "3,2"; });

    // header
    g.append("text").attr("x", 415).attr("y", -3).attr("text-anchor", "middle")
        .attr("font-size", 14).attr("font-weight", "bold").text(title);
    g.append("text").attr("x", 633).attr("y", -11).attr("text-anchor", "end")
        .attr("font-size", 9.5).attr("fill", "#999").text("Infoplaza.nl - regio noordoost");
    g.append("text").attr("x", 633).attr("y", -2).attr("text-anchor", "end")
        .attr("font-size", 9.5).attr("fill", "#999").text("Gemaakt: vr 13 jan 22:00");
    return g;
}

function drawAxes(g, x, y, yTicks, tick) {
    var x0 = x.range()[0], x1 = x.range()[1];
    var ya = g.append("g").attr("transform", "translate(" + x0 + ",0)")
        .call(d3.axisLeft(y).tickValues(yTicks).tickSize(tick).tickSizeOuter(0).tickPadding(2));
    ya.attr("font-family", null).attr("font-size", 11);
    ya.select(".domain").attr("stroke-width", 1.5);
    ya.selectAll("text").attr("fill", "#000");

    var xa = g.append("g").attr("transform", "translate(0," + PH + ")")
        .call(d3.axisBottom(x).ticks(d3.timeHour.every(12)).tickSize(5).tickSizeOuter(0).tickPadding(3)
            .tickFormat(function (d) {
                if (d.getHours() !== 12) return "";
                var k = Math.floor((d - dayZero) / 864e5);
                return dayLabels[k] || "";
            }));
    xa.attr("font-family", null).attr("font-size", 11);
    xa.select(".domain").attr("stroke-width", 1.5);
    xa.selectAll("text").attr("fill", "#000");

    // top and right border
    g.append("line").attr("x1", x0).attr("x2", x1).attr("y1", 0.5).attr("y2", 0.5)
        .attr("stroke", "#000").attr("stroke-width", 1.5);
    g.append("line").attr("x1", x1 - 0.5).attr("x2", x1 - 0.5).attr("y1", 0).attr("y2", PH)
        .attr("stroke", "#000");
}

function drawLegend(g, items) {
    items.forEach(function (it) {
        if (it.square) {
            g.append("rect").attr("x", it.x).attr("y", -12).attr("width", 8).attr("height", 8)
                .attr("fill", it.color).attr("stroke", "#444").attr("stroke-width", 0.5);
            g.append("text").attr("x", it.x + 11).attr("y", -4).attr("font-size", 10.5).text(it.label);
        } else {
            g.append("line").attr("x1", it.x).attr("x2", it.x + 16).attr("y1", -7).attr("y2", -7)
                .attr("stroke", it.color).attr("stroke-width", it.w)
                .attr("stroke-dasharray", it.dash || null);
            g.append("text").attr("x", it.x + 19).attr("y", -3).attr("font-size", 10.5).text(it.label);
        }
    });
}

var ensemblePanels = [
    { top: 20, title: "Temperatuur 2m", dom: [-20, 15], step: 5, oper: tOper, control: tControl, avg: tAvg, members: tMembers, zero: true },
    { top: 320, title: "Dauwpunt 2m", dom: [-20, 15], step: 5, oper: dOper, control: dControl, avg: dAvg, members: dMembers },
    { top: 620, title: "Neerslag", dom: [0, 18], step: 2, oper: pOper, control: pControl, avg: pAvg, members: pMembers },
    { top: 920, title: "10m wind", dom: [0, 16], step: 2, oper: wOper, control: wControl, avg: wAvg, members: wMembers },
    { top: 1220, title: "10m windstoten", dom: [0, 28], step: 2, oper: gOper, control: gControl, avg: gAvg, members: gMembers, gust: true }
];

ensemblePanels.forEach(function (p) {
    var y = d3.scaleLinear().domain(p.dom).range([PH, 0]);
    var yTicks = d3.range(p.dom[0], p.dom[1] + 0.001, p.step);
    var g = drawFrame(p.top, xMain, y, yTicks, p.title);

    var line = d3.line()
        .x(function (d, i) { return xMain(stepTime(startMain, i)); })
        .y(function (d) { return y(d); });

    if (p.zero) {
        g.append("line").attr("x1", xMain.range()[0]).attr("x2", xMain.range()[1])
            .attr("y1", y(0)).attr("y2", y(0)).attr("stroke", "#000").attr("stroke-width", 2.5);
    }
    if (p.gust) {
        g.append("line").attr("x1", xMain.range()[0]).attr("x2", xMain.range()[1])
            .attr("y1", y(gustWarn)).attr("y2", y(gustWarn))
            .attr("stroke", "#1d5b55").attr("stroke-width", 2).attr("stroke-dasharray", "2,3");
    }

    g.append("g").selectAll("path").data(p.members).join("path")
        .attr("d", line).attr("fill", "none")
        .attr("stroke", MEMBER).attr("stroke-opacity", 0.45).attr("stroke-width", 1);

    g.append("path").attr("d", line(p.avg)).attr("fill", "none")
        .attr("stroke", AVG).attr("stroke-width", 3).attr("stroke-dasharray", "3,3");
    g.append("path").attr("d", line(p.control)).attr("fill", "none")
        .attr("stroke", CONTROL).attr("stroke-width", 4).attr("stroke-linejoin", "round");
    g.append("path").attr("d", line(p.oper)).attr("fill", "none")
        .attr("stroke", OPER).attr("stroke-width", 4).attr("stroke-linejoin", "round");

    drawAxes(g, xMain, y, yTicks, 6);
    if (p.gust) {
        g.append("line").attr("x1", xMain.range()[0]).attr("x2", xMain.range()[1])
            .attr("y1", y(gustMax) + 2).attr("y2", y(gustMax) + 2)
            .attr("stroke", "#ff44ff").attr("stroke-width", 3).attr("stroke-dasharray", "7,5");
    }

    drawLegend(g, [
        { label: "Oper", x: 28, color: OPER, w: 4 },
        { label: "Control", x: 96, color: CONTROL, w: 4 },
        { label: "Members", x: 175, color: "#9fd096", w: 1 },
        { label: "Average", x: 262, color: AVG, w: 3, dash: "3,2" }
    ]);
});

// cloud cover panel
(function () {
    var y = d3.scaleLinear().domain([0, 100]).range([PH, 0]);
    var yTicks = d3.range(0, 101, 10);
    var g = drawFrame(1520, xCover, y, yTicks, "Bedekkingsgraad");
    var xi = function (i) { return xCover(stepTime(startCover, i)); };
    var idx = d3.range(cLow.length);

    g.append("g").selectAll("rect").data(idx.filter(function (i) { return cHigh[i] > cLow[i]; })).join("rect")
        .attr("x", function (i) { return xi(i) - 3; })
        .attr("width", 8)
        .attr("y", function (i) { return y(cHigh[i]); })
        .attr("height", function (i) { return y(cLow[i]) - y(cHigh[i]); })
        .attr("fill", "#ffffb4").attr("stroke", "#c5c3dc").attr("stroke-width", 1);

    g.append("g").selectAll("line").data(idx).join("line")
        .attr("x1", function (i) { return xi(i) - 3; })
        .attr("x2", function (i) { return xi(i) + 5; })
        .attr("y1", function (i) { return y(cMedian[i]); })
        .attr("y2", function (i) { return y(cMedian[i]); })
        .attr("stroke", "#000").attr("stroke-width", 1.5);

    var line = d3.line().x(function (d, i) { return xi(i); }).y(function (d) { return y(d); });
    g.append("path").attr("d", line(cOper)).attr("fill", "none")
        .attr("stroke", OPER).attr("stroke-width", 2.5).attr("stroke-linejoin", "round");
    g.append("path").attr("d", line(cControl)).attr("fill", "none")
        .attr("stroke", CONTROL).attr("stroke-width", 2.5).attr("stroke-linejoin", "round");

    drawAxes(g, xCover, y, yTicks, 3);
    g.selectAll(".tick text").attr("font-size", null);
    drawLegend(g, [
        { label: "oper", x: 28, color: OPER, square: true },
        { label: "control", x: 86, color: CONTROL, square: true },
        { label: "50%", x: 155, color: "#ffffb4", square: true },
        { label: "median", x: 213, color: "#000", square: true }
    ]);
})();
</script>
</body>
</html>
